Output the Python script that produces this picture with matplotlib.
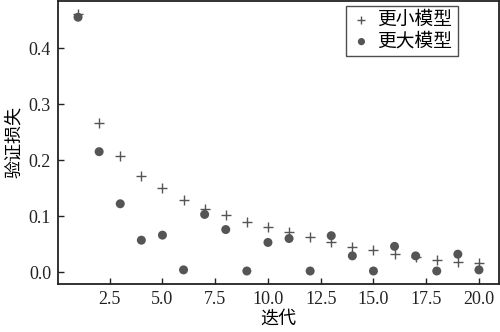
import matplotlib
matplotlib.use("Agg")
import matplotlib.pyplot as plt

plt.rcParams['font.family'] = ['Liberation Serif', 'Noto Sans CJK SC']
plt.rcParams['axes.unicode_minus'] = False

iterations = list(range(1, 21))
smaller_model = [0.461, 0.266, 0.208, 0.171, 0.151, 0.129, 0.113, 0.102, 0.090, 0.081,
                 0.072, 0.062, 0.054, 0.045, 0.039, 0.032, 0.027, 0.022, 0.018, 0.016]
larger_model = [0.455, 0.215, 0.122, 0.057, 0.066, 0.004, 0.103, 0.076, 0.002, 0.053,
                0.060, 0.002, 0.065, 0.029, 0.002, 0.046, 0.029, 0.002, 0.032, 0.004]

fig = plt.figure(figsize=(5.0, 3.32), dpi=100)
ax = fig.add_axes([0.116, 0.145, 0.882, 0.852])

ax.scatter(iterations, smaller_model, marker='+', s=55, color='#555555',
           linewidths=1.0, label='更小模型', zorder=3)
ax.scatter(iterations, larger_model, marker='o', s=42, color='#555555',
           edgecolors='none', label='更大模型', zorder=2)

ax.set_xticks([2.5, 5.0, 7.5, 10.0, 12.5, 15.0, 17.5, 20.0])
ax.set_yticks([0.0, 0.1, 0.2, 0.3, 0.4])
ax.tick_params(axis='both', labelsize=13, direction='in', length=4, width=1,
               colors='#222222', pad=5)
for sp in ax.spines.values():
    sp.set_linewidth(1.3)
    sp.set_color('#222222')

ax.set_xlabel('迭代', fontsize=13, labelpad=2)
ax.set_ylabel('验证损失', fontsize=13, labelpad=4)

leg = ax.legend(loc='upper right', fontsize=13.5, fancybox=False, frameon=True,
                edgecolor='#222222', borderpad=0.3, handletextpad=0.35,
                labelspacing=0.2, handlelength=1.0, borderaxespad=0,
                markerscale=0.8, bbox_to_anchor=(0.907, 0.982))
leg.get_frame().set_linewidth(1.0)

fig.savefig('out.png', dpi=100)
